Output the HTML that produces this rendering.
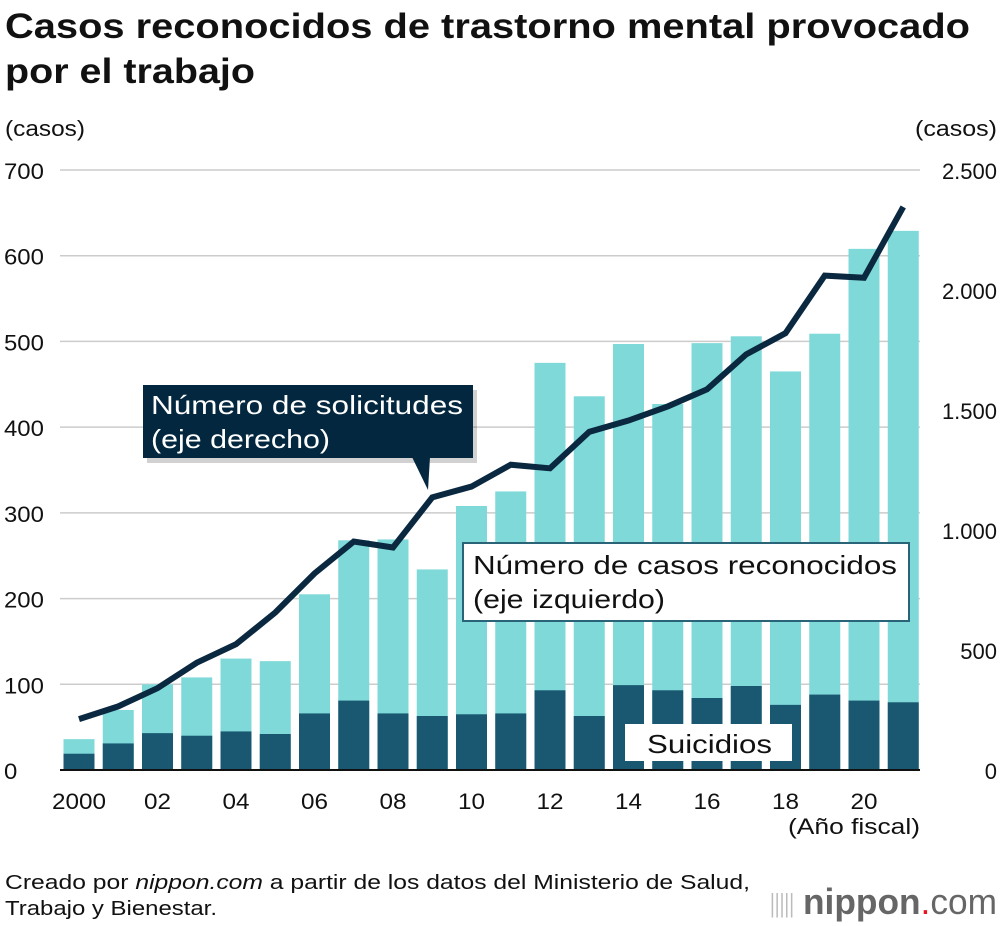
<!DOCTYPE html>
<html><head><meta charset="utf-8"><style>
body{margin:0;background:#fff;font-family:"Liberation Sans",Arial,sans-serif;}
#wrap{position:relative;width:1000px;height:926px;overflow:hidden;}
svg text{font-family:"Liberation Sans",Arial,sans-serif;}
</style></head><body>
<div id="wrap">
<svg id="chart" width="1000" height="926" style="position:absolute;left:0;top:0">
<text x="5" y="38" font-size="35" font-weight="bold" fill="#111" textLength="965" lengthAdjust="spacingAndGlyphs">Casos reconocidos de trastorno mental provocado</text>
<text x="5" y="83" font-size="35" font-weight="bold" fill="#111" textLength="250" lengthAdjust="spacingAndGlyphs">por el trabajo</text>
<text x="5" y="136" font-size="22" fill="#111" textLength="80" lengthAdjust="spacingAndGlyphs">(casos)</text>
<text x="915" y="136" font-size="22" fill="#111" textLength="82" lengthAdjust="spacingAndGlyphs">(casos)</text>
<text x="788" y="834" font-size="22" fill="#111" textLength="132" lengthAdjust="spacingAndGlyphs">(Año fiscal)</text>
<text x="5" y="889" font-size="20" fill="#111" textLength="745" lengthAdjust="spacingAndGlyphs">Creado por <tspan font-style="italic">nippon.com</tspan> a partir de los datos del Ministerio de Salud,</text>
<text x="5" y="915" font-size="20" fill="#111" textLength="212" lengthAdjust="spacingAndGlyphs">Trabajo y Bienestar.</text>
<g>
<text x="770" y="912" font-size="26" fill="#bbb" textLength="24" lengthAdjust="spacingAndGlyphs">|||||</text>
<text x="803" y="914" font-size="36" fill="#666" textLength="194" lengthAdjust="spacingAndGlyphs"><tspan font-weight="bold">nippon</tspan><tspan fill="#e8141e">.</tspan>com</text>
</g>
</svg>
</div>
<script>
const years=[2000,2001,2002,2003,2004,2005,2006,2007,2008,2009,2010,2011,2012,2013,2014,2015,2016,2017,2018,2019,2020,2021];
const totalCases=[36,70,100,108,130,127,205,268,269,234,308,325,475,436,497,427,498,506,465,509,608,629];
const suicides=[19,31,43,40,45,42,66,81,66,63,65,66,93,63,99,93,84,98,76,88,81,79];
const applications=[212,265,341,447,524,656,819,952,927,1136,1181,1272,1257,1409,1456,1515,1586,1732,1820,2060,2051,2346];
const leftTicks=[0,100,200,300,400,500,600,700];
const rightTicks=[0,500,1000,1500,2000,2500];
const xLabels=["2000","02","04","06","08","10","12","14","16","18","20"];
const NS="http://www.w3.org/2000/svg";
const svg=document.getElementById('chart');
const y0=770,yTop=170,x0=60,x1=920;
const yL=v=>y0-(v/700)*(y0-yTop);
const yR=v=>y0-(v/2500)*(y0-yTop);
const xC=i=>79+i*39.25;
function mk(tag,a){const e=document.createElementNS(NS,tag);for(const k in a)e.setAttribute(k,a[k]);svg.appendChild(e);return e;}
leftTicks.forEach(v=>{
  if(v>0){const g=mk('line',{x1:x0,x2:x1,y1:yL(v),y2:yL(v),stroke:'#ccc','stroke-width':1.5});
  
  }
  const t=mk('text',{x:4,y:yL(v)+9,'font-size':22,fill:'#111',textLength:String(v).length*13.3,lengthAdjust:'spacingAndGlyphs'});t.textContent=v;
  
  
});
rightTicks.forEach(v=>{
  const s=v===0?'0':v.toLocaleString('de-DE');
  const t=mk('text',{x:997,y:yR(v)+9,'font-size':22,fill:'#111','text-anchor':'end'});t.textContent=s;
  
  
});
years.forEach((yr,i)=>{
  const bw=31,x=xC(i)-bw/2;
  const r1=mk('rect',{x:x,y:yL(totalCases[i]),width:bw,height:y0-yL(totalCases[i]),fill:'#7fd9d9'});
  
  
  const r2=mk('rect',{x:x,y:yL(suicides[i]),width:bw,height:y0-yL(suicides[i]),fill:'#1a5872'});
  
  
});
xLabels.forEach((l,j)=>{
  const t=mk('text',{x:xC(j*2),y:809,'font-size':22,fill:'#111','text-anchor':'middle',textLength:l.length*13.5,lengthAdjust:'spacingAndGlyphs'});t.textContent=l;
  
  
});
const base=mk('line',{x1:x0,x2:x1,y1:y0,y2:y0,stroke:'#111','stroke-width':2});


const pl=mk('polyline',{points:applications.map((v,i)=>xC(i)+','+yR(v)).join(' '),fill:'none',stroke:'#0a2840','stroke-width':6,'stroke-linejoin':'miter'});


const sh=mk('rect',{x:147,y:390,width:330,height:73,fill:'rgba(0,0,0,0.18)'});


const c1=mk('rect',{x:143,y:385,width:330,height:73,fill:'#03273f'});


const p1=mk('polygon',{points:'412,457 428,490 430,457',fill:'#03273f'});


function tx(x,y,s,len,fill,name){const t=mk('text',{x:x,y:y,'font-size':26,fill:fill,textLength:len,lengthAdjust:'spacingAndGlyphs'});t.textContent=s;
  
  return t;}
tx(151,414,'Número de solicitudes',312,'#fff','applications-callout-text');
tx(151,448,'(eje derecho)',179,'#fff','applications-callout-text');
const c2=mk('rect',{x:463,y:543,width:446,height:78,fill:'#fff',stroke:'#2a6478','stroke-width':2});


tx(473,574,'Número de casos reconocidos',424,'#111','cases-callout-text');
tx(473,608,'(eje izquierdo)',192,'#111','cases-callout-text');
const c3=mk('rect',{x:625,y:724,width:167,height:37,fill:'#fff'});


tx(647,753,'Suicidios',125,'#111','suicides-callout-text');
</script>
</body></html>
